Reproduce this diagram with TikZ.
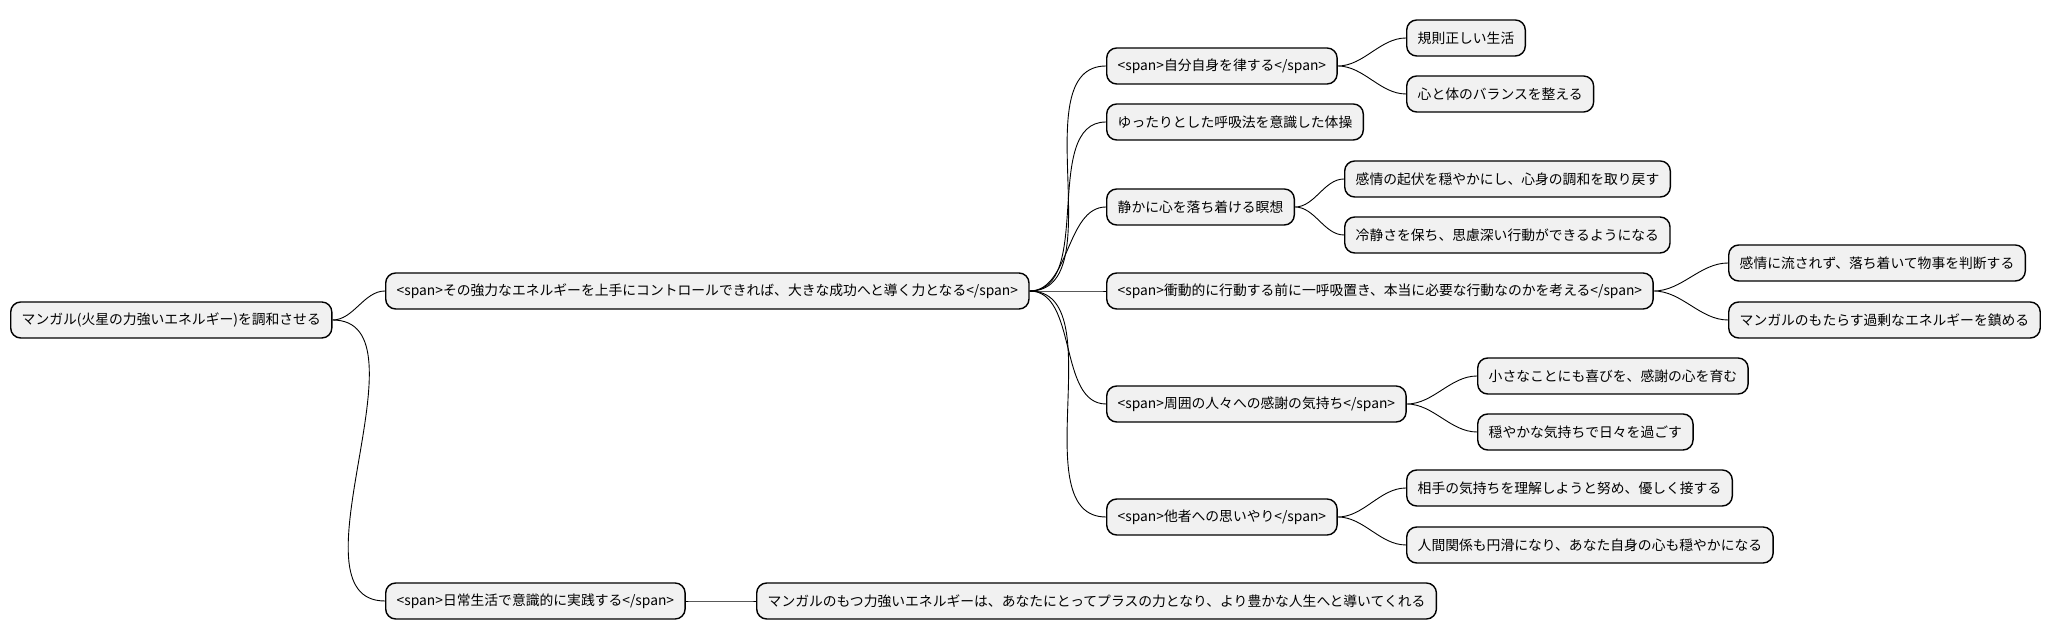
\documentclass[tikz,border=0pt]{standalone}
\usepackage{fontspec}
\setmainfont{Noto Sans CJK JP}
\usetikzlibrary{positioning}
\definecolor{boxfill}{HTML}{F1F1F1}
\tikzset{
  box/.style={draw,line width=.7pt,fill=boxfill,rounded corners=5pt,anchor=west,
    minimum height=18pt,inner xsep=5.5pt,font=\fontsize{6.9pt}{8pt}\selectfont},
  link/.style={line width=.45pt,out=0,in=180,looseness=.9},
}
\begin{document}
\begin{tikzpicture}[x=.5pt,y=-.5pt,line join=round]
    \useasboundingbox (0,0) rectangle (2053,640);
    % root and first level
    \node[box](root) at (10,320) {マンガル(火星の力強いエネルギー)を調和させる};
    \node[box](ctrl) at (385,291) {<span>その強力なエネルギーを上手にコントロールできれば、大きな成功へと導く力となる</span>};
    \node[box](daily) at (385,601) {<span>日常生活で意識的に実践する</span>};
    \node[box](plus) at (756,601) {マンガルのもつ力強いエネルギーは、あなたにとってプラスの力となり、より豊かな人生へと導いてくれる};

    % second level
    \node[box](self) at (1106,66) {<span>自分自身を律する</span>};
    \node[box](breath) at (1106,122) {ゆったりとした呼吸法を意識した体操};
    \node[box](medit) at (1106,207) {静かに心を落ち着ける瞑想};
    \node[box](pause) at (1106,291) {<span>衝動的に行動する前に一呼吸置き、本当に必要な行動なのかを考える</span>};
    \node[box](thanks) at (1106,404) {<span>周囲の人々への感謝の気持ち</span>};
    \node[box](care) at (1106,517) {<span>他者への思いやり</span>};

    % leaves
    \node[box](regular) at (1406,38) {規則正しい生活};
    \node[box](balance) at (1406,94) {心と体のバランスを整える};
    \node[box](calm) at (1344,179) {感情の起伏を穏やかにし、心身の調和を取り戻す};
    \node[box](cool) at (1344,235) {冷静さを保ち、思慮深い行動ができるようになる};
    \node[box](judge) at (1728,263) {感情に流されず、落ち着いて物事を判断する};
    \node[box](excess) at (1728,320) {マンガルのもたらす過剰なエネルギーを鎮める};
    \node[box](joy) at (1477,376) {小さなことにも喜びを、感謝の心を育む};
    \node[box](days) at (1477,432) {穏やかな気持ちで日々を過ごす};
    \node[box](other) at (1406,488) {相手の気持ちを理解しようと努め、優しく接する};
    \node[box](human) at (1406,545) {人間関係も円滑になり、あなた自身の心も穏やかになる};

    \draw[link] (root.east) to (ctrl.west);
    \draw[link] (root.east) to (daily.west);
    \draw[link] (daily.east) to (plus.west);
    \foreach \n in {self,breath,medit,pause,thanks,care}
      \draw[link] (ctrl.east) to (\n.west);
    \draw[link] (self.east) to (regular.west) (self.east) to (balance.west);
    \draw[link] (medit.east) to (calm.west) (medit.east) to (cool.west);
    \draw[link] (pause.east) to (judge.west) (pause.east) to (excess.west);
    \draw[link] (thanks.east) to (joy.west) (thanks.east) to (days.west);
    \draw[link] (care.east) to (other.west) (care.east) to (human.west);
  \end{tikzpicture}
\end{document}
